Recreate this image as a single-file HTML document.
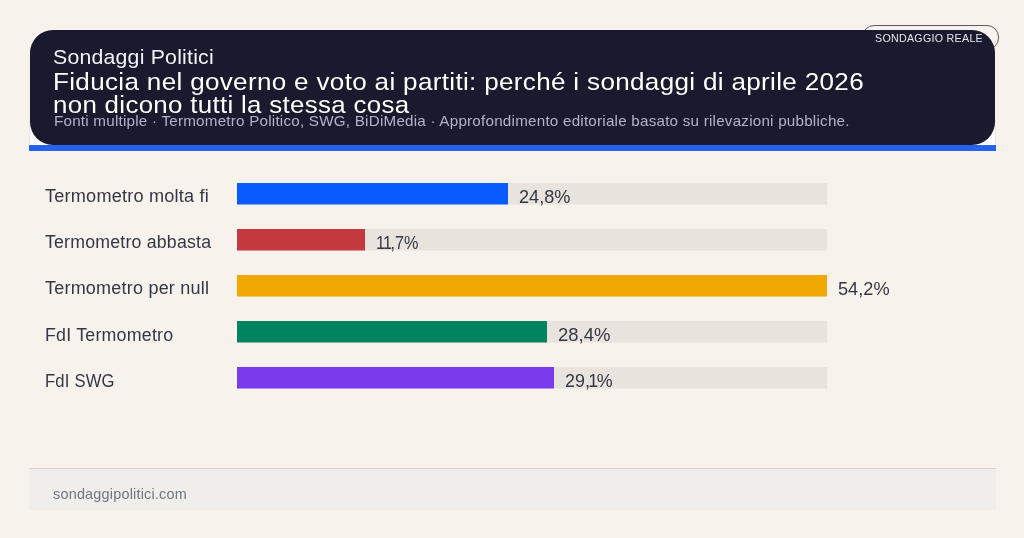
<!DOCTYPE html>
<html lang="it">
<head>
<meta charset="utf-8">
<title>Sondaggi Politici</title>
<style>
  html, body { margin: 0; padding: 0; }
  header, main, section, footer { display: block; margin: 0; padding: 0; }
  body {
    width: 1024px; height: 538px; overflow: hidden; position: relative;
    background: #f7f2ec;
    font-family: "Liberation Sans", sans-serif;
  }
  .t { position: absolute; white-space: nowrap; line-height: 30px; transform-origin: 0 0; }
  .hdr-white { position: absolute; left: 29px; top: 121px; width: 965px; height: 25px; background: #ffffff; border-left: 1px solid #e9e5dd; border-right: 1px solid #e9e5dd; }
  .hdr-dark { position: absolute; left: 30px; top: 30px; width: 965px; height: 115px; background: #1a1a2e; border-radius: 23px; }
  .hdr-blue { position: absolute; left: 29px; top: 145px; width: 967px; height: 6px; background: #2563eb; }
  .badge { position: absolute; left: 862px; top: 25.4px; width: 135px; height: 23px; border: 1px solid rgba(26,26,46,0.7); border-radius: 12px; }
  .track { position: absolute; left: 237px; width: 590px; height: 21px; background: #e8e3dc; box-shadow: 0 1px 0 rgba(232,227,220,0.5); }
  .fill { position: absolute; left: 0; top: 0; height: 21px; }
  .foot { position: absolute; left: 29px; top: 468px; width: 967px; height: 41px; background: #f0eeea; border-top: 1px solid #dad5cb; }
</style>
</head>
<body>
<header>
<div class="hdr-white"></div>
<div class="hdr-dark"></div>
<div class="hdr-blue"></div>
<div class="t" style="left:52.93px;top:42.44px;font-size:19.8px;letter-spacing:0.2px;color:#f3f3f7;transform:scaleX(1.0748)">Sondaggi Politici</div>
<div class="t" style="left:53.08px;top:66.78px;font-size:24.6px;letter-spacing:0.3px;color:#ffffff;transform:scaleX(1.0600)">Fiducia nel governo e voto ai partiti: perché i sondaggi di aprile 2026</div>
<div class="t" style="left:53.30px;top:90.28px;font-size:24.6px;letter-spacing:0.3px;color:#ffffff;transform:scaleX(1.0521)">non dicono tutti la stessa cosa</div>
<div class="t" style="left:53.74px;top:106.01px;font-size:14.4px;letter-spacing:0.2px;color:#b0b4c9;transform:scaleX(1.0581)">Fonti multiple · Termometro Politico, SWG, BiDiMedia · Approfondimento editoriale basato su rilevazioni pubbliche.</div>
<div class="badge"></div>
<div class="t" style="left:875.46px;top:23.08px;font-size:11.3px;letter-spacing:0.3px;color:#e6e6ee;transform:scaleX(0.9446)">SONDAGGIO REALE</div>
</header>
<main>
<section>
<div class="t" style="left:45.30px;top:181.14px;font-size:17.5px;letter-spacing:0.2px;color:#333846;transform:scaleX(1.0357)">Termometro molta fi</div>
<div class="track" style="top:183px"><div class="fill" style="width:271px;background:#0b5cff;box-shadow:0 1px 0 #0b5cff80"></div></div>
<div class="t" style="left:518.98px;top:181.57px;font-size:17.7px;letter-spacing:0px;color:#333846;transform:scaleX(1.0245)">24,8%</div>
</section>
<section>
<div class="t" style="left:45.30px;top:227.14px;font-size:17.5px;letter-spacing:0.2px;color:#333846;transform:scaleX(1.0128)">Termometro abbasta</div>
<div class="track" style="top:229px"><div class="fill" style="width:128px;background:#c4393d;box-shadow:0 1px 0 #c4393d80"></div></div>
<div class="t" style="left:376.08px;top:227.57px;font-size:17.7px;letter-spacing:0px;color:#333846;transform:scaleX(0.9156)"><span style="letter-spacing:-2.2px">1</span><span style="letter-spacing:-1.6px">1</span>,7%</div>
</section>
<section>
<div class="t" style="left:45.30px;top:273.14px;font-size:17.5px;letter-spacing:0.2px;color:#333846;transform:scaleX(1.0297)">Termometro per null</div>
<div class="track" style="top:275px"><div class="fill" style="width:590px;background:#f2a803;box-shadow:0 1px 0 #f2a80380"></div></div>
<div class="t" style="left:837.77px;top:273.87px;font-size:17.7px;letter-spacing:0px;color:#333846;transform:scaleX(1.0286)">54,2%</div>
</section>
<section>
<div class="t" style="left:44.98px;top:319.94px;font-size:17.5px;letter-spacing:0.2px;color:#333846;transform:scaleX(1.0185)">FdI Termometro</div>
<div class="track" style="top:321px"><div class="fill" style="width:310px;background:#008361;box-shadow:0 1px 0 #00836180"></div></div>
<div class="t" style="left:557.76px;top:319.87px;font-size:17.7px;letter-spacing:0px;color:#333846;transform:scaleX(1.0429)">28,4%</div>
</section>
<section>
<div class="t" style="left:45.05px;top:365.94px;font-size:17.5px;letter-spacing:0.2px;color:#333846;transform:scaleX(0.9507)">FdI SWG</div>
<div class="track" style="top:367px"><div class="fill" style="width:317px;background:#7c3aed;box-shadow:0 1px 0 #7c3aed80"></div></div>
<div class="t" style="left:564.79px;top:365.87px;font-size:17.7px;letter-spacing:0px;color:#333846;transform:scaleX(1.0109)">29<span style="letter-spacing:-1.5px">,1</span>%</div>
</section>
</main>
<footer>
<div class="foot"></div>
<div class="t" style="left:53.21px;top:479.24px;font-size:14.6px;letter-spacing:0.2px;color:#6f7683;transform:scaleX(0.9895)">sondaggipolitici.com</div>
</footer>
</body>
</html>
